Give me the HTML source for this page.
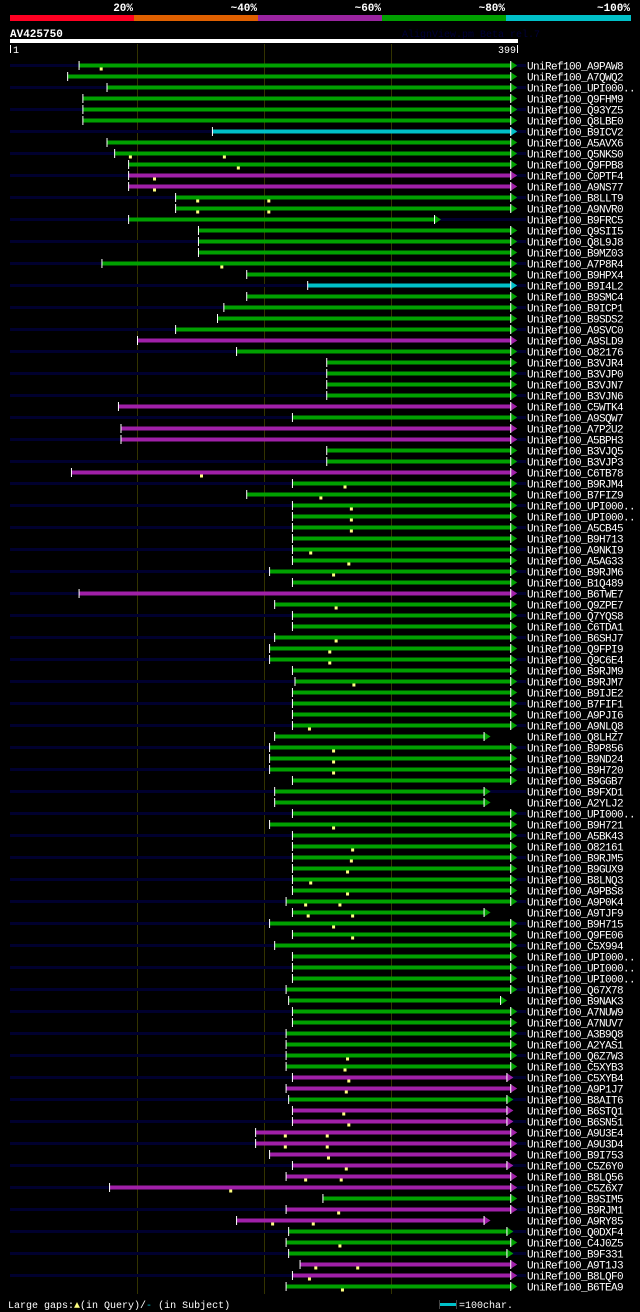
<!DOCTYPE html>
<html><head><meta charset="utf-8">
<style>
html,body{margin:0;padding:0;background:#000;width:640px;height:1312px;overflow:hidden}
svg{display:block}
text{font-family:"Liberation Mono","DejaVu Sans Mono",monospace}
</style></head>
<body>
<svg id="chart" width="640" height="1312" viewBox="0 0 640 1312" xmlns="http://www.w3.org/2000/svg">
  <g>
    <rect x="10" y="15" width="124" height="6" fill="#ff0022"/>
    <rect x="134" y="15" width="124" height="6" fill="#e06000"/>
    <rect x="258" y="15" width="124" height="6" fill="#9a24a0"/>
    <rect x="382" y="15" width="124" height="6" fill="#00a000"/>
    <rect x="506" y="15" width="125" height="6" fill="#00c0c8"/>
    <text x="133" y="11" fill="#fff" font-size="11" font-weight="bold" text-anchor="end">20%</text>
    <text x="257" y="11" fill="#fff" font-size="11" font-weight="bold" text-anchor="end">~40%</text>
    <text x="381" y="11" fill="#fff" font-size="11" font-weight="bold" text-anchor="end">~60%</text>
    <text x="505" y="11" fill="#fff" font-size="11" font-weight="bold" text-anchor="end">~80%</text>
    <text x="630" y="11" fill="#fff" font-size="11" font-weight="bold" text-anchor="end">~100%</text>
  </g>
  <text x="10" y="37" fill="#fff" font-size="11" font-weight="bold">AV425750</text>
  <text x="402" y="37" fill="#000038" font-size="10">AlignView.pm Beta rel.7</text>
  <rect x="10" y="39" width="508" height="4" fill="#fff"/>
  <rect x="10" y="45" width="1" height="8" fill="#fff"/>
  <text x="13" y="53" fill="#fff" font-size="10">1</text>
  <text x="516" y="53" fill="#fff" font-size="10" text-anchor="end">399</text>
  <rect x="517" y="45" width="1" height="8" fill="#fff"/>
  <g id="grid"></g>
  <g id="rows"></g>
  <g>
    <text x="8" y="1308" fill="#fff" font-size="10">Large gaps:<tspan fill="#ffff80">▲</tspan>(in Query)/<tspan fill="#00c0c8">-</tspan> (in Subject)</text>
    <rect x="440" y="1303" width="16" height="3" fill="#00c0c8"/>
    <rect x="439" y="1300" width="1" height="9" fill="#444"/>
    <rect x="456" y="1300" width="1" height="9" fill="#444"/>
    <text x="459" y="1308" fill="#fff" font-size="10">=100char.</text>
  </g>
</svg>
<script>
const names=["A9PAW8","A7QWQ2","UPI000..","Q9FHM9","Q93YZ5","Q8LBE0","B9ICV2","A5AVX6","Q5NKS0","Q9FPB8","C0PTF4","A9NS77","B8LLT9","A9NVR0","B9FRC5","Q9SII5","Q8L9J8","B9MZ03","A7P8R4","B9HPX4","B9I4L2","B9SMC4","B9ICP1","B9SDS2","A9SVC0","A9SLD9","O82176","B3VJR4","B3VJP0","B3VJN7","B3VJN6","C5WTK4","A9SQW7","A7P2U2","A5BPH3","B3VJQ5","B3VJP3","C6TB78","B9RJM4","B7FIZ9","UPI000..","UPI000..","A5CB45","B9H713","A9NKI9","A5AG33","B9RJM6","B1Q489","B6TWE7","Q9ZPE7","Q7YQS8","C6TDA1","B6SHJ7","Q9FPI9","Q9C6E4","B9RJM9","B9RJM7","B9IJE2","B7FIF1","A9PJI6","A9NLQ8","Q8LHZ7","B9P856","B9ND24","B9H720","B9GGB7","B9FXD1","A2YLJ2","UPI000..","B9H721","A5BK43","O82161","B9RJM5","B9GUX9","B8LNQ3","A9PBS8","A9P0K4","A9TJF9","B9H715","Q9FE06","C5X994","UPI000..","UPI000..","UPI000..","Q67X78","B9NAK3","A7NUW9","A7NUV7","A3B9Q8","A2YAS1","Q6Z7W3","C5XYB3","C5XYB4","A9P1J7","B8AIT6","B6STQ1","B6SN51","A9U3E4","A9U3D4","B9I753","C5Z6Y0","B8LQ56","C5Z6X7","B9SIM5","B9RJM1","A9RY85","Q0DXF4","C4J0Z5","B9F331","A9T1J3","B8LQF0","B6TEA9"];
const starts=[54,45,76,57,57,57,159,76,82,93,93,93,130,130,93,148,148,148,72,186,234,186,168,163,130,100,178,249,249,249,249,85,222,87,87,249,249,48,222,186,222,222,222,222,222,222,204,222,54,208,222,222,208,204,204,222,224,222,222,222,222,208,204,204,204,222,208,208,222,204,222,222,222,222,222,222,217,222,204,222,208,222,222,222,217,219,222,222,217,217,217,217,222,217,219,222,222,193,193,204,222,217,78,246,217,178,219,217,219,228,222,217];
const ends=[399,399,399,399,399,399,399,399,399,399,399,399,399,399,339,399,399,399,399,399,399,399,399,399,399,399,399,399,399,399,399,399,399,399,399,399,399,399,399,399,399,399,399,399,399,399,399,399,399,399,399,399,399,399,399,399,399,399,399,399,399,378,399,399,399,399,378,378,399,399,399,399,399,399,399,399,399,378,399,399,399,399,399,399,399,391,399,399,399,399,399,399,396,399,396,396,396,399,399,399,396,399,399,399,399,378,396,399,396,399,399,399];
const magentaRows=[11,12,26,32,34,35,38,49,93,94,96,97,98,99,100,101,102,103,105,106,110,111];
const cyanRows=[7,21];
const gapRows=[0,8,8,9,10,11,12,12,13,13,18,37,38,39,40,41,42,44,45,46,49,52,53,54,56,60,62,63,64,69,71,72,73,74,75,76,76,77,77,78,79,90,91,92,93,95,96,97,97,98,98,99,100,101,101,102,104,105,105,107,109,109,110,111];
const gapPos=[71,94,168,179,113,113,147,203,147,203,166,150,263,244,268,268,268,236,266,254,256,256,251,251,270,235,254,254,254,254,269,268,265,236,265,232,259,234,269,254,269,265,263,266,264,262,266,216,249,216,249,250,264,232,260,173,258,206,238,259,240,273,235,261];
const tickPos=[100,200,300];
</script>
<script>
(function(){
const NS="http://www.w3.org/2000/svg";
const x=p=>10.5+p*1.27;
const y=i=>65.5+i*11;
function colorOf(i){const r=i+1;if(magentaRows.includes(r))return "#a020a8";if(cyanRows.includes(r))return "#00c0c8";return "#00a000";}
function mk(tag,attrs,parent){const e=document.createElementNS(NS,tag);for(const k in attrs)e.setAttribute(k,attrs[k]);parent.appendChild(e);return e;}
const grid=document.getElementById('grid');
tickPos.forEach(t=>{
  const l=mk('line',{x1:x(t),x2:x(t),y1:44,y2:1294,stroke:'#333300','stroke-width':1},grid);
  
  
});
const rows=document.getElementById('rows');
names.forEach((n,i)=>{
  const g=mk('g',{},rows);
  
  
  const cy=y(i);
  if(i%2===0){
    const bg=mk('rect',{x:10,y:cy-1.5,width:516,height:3,fill:'#00002e'},g);
    
    
  }
  const c=colorOf(i);
  const x0=x(starts[i]),x1=x(ends[i]);
  const bar=mk('rect',{x:x0,y:cy-2,width:Math.max(0,x1-6-x0),height:4,fill:c},g);
  
  
  const ar=mk('polygon',{points:(x1-7)+','+(cy-4.5)+' '+x1+','+cy+' '+(x1-7)+','+(cy+4.5),fill:c},g);
  
  
  const ab=mk('rect',{x:x1-7,y:cy-4.5,width:1,height:9,fill:'#fff'},g);
  
  
  const tk=mk('rect',{x:x0-0.5,y:cy-4.5,width:1,height:9,fill:'#fff'},g);
  
  
  const t=mk('text',{x:527,y:cy+4,fill:'#fff','font-size':11,'letter-spacing':'-0.6'},g);
  t.textContent='UniRef100_'+n;
  
  
});
gapRows.forEach((r,k)=>{
  const gx=x(gapPos[k]),cy=y(r);
  const m=mk('rect',{x:gx-1,y:cy+2,width:3,height:3,fill:'#ffff80'},rows);
  
  
});
})();
</script>
</body></html>
